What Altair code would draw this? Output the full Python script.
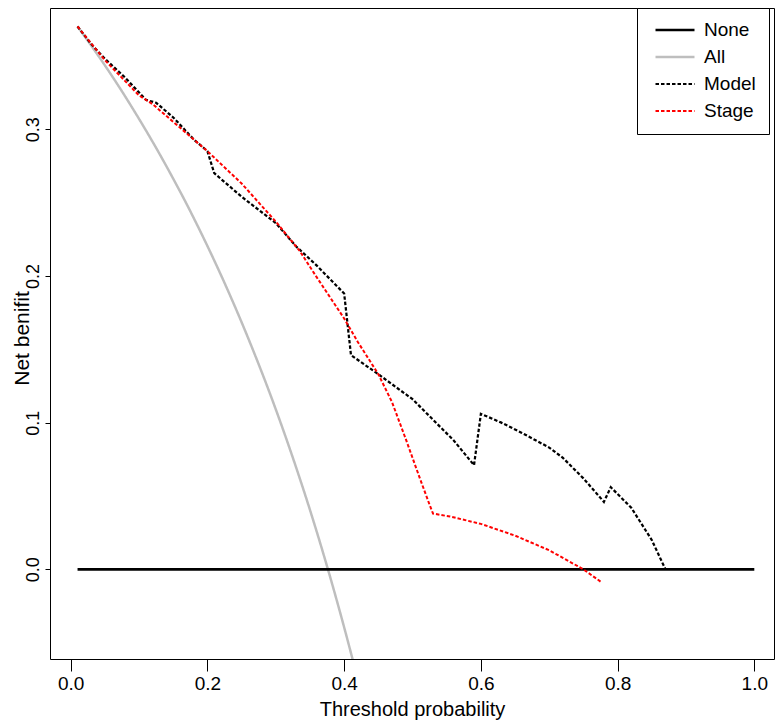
import altair as alt
import pandas as pd

series_names = ["None", "All", "Model", "Stage"]
series_colors = ["black", "#bebebe", "black", "red"]

thr_none = [0.01, 1.0]
nb_none = [0.0, 0.0]

thr_all = [0.01, 0.03, 0.05, 0.07, 0.09, 0.11, 0.13, 0.15, 0.17, 0.19, 0.21,
           0.23, 0.25, 0.27, 0.29, 0.31, 0.33, 0.35, 0.37, 0.39, 0.41, 0.43]
nb_all = [0.370, 0.357, 0.3435, 0.3294, 0.3146, 0.2992, 0.2831, 0.2662, 0.2486,
          0.2300, 0.2105, 0.1900, 0.1684, 0.1456, 0.1216, 0.0961, 0.0691,
          0.0405, 0.0100, -0.0225, -0.0571, -0.0942]

thr_model = [0.01, 0.03, 0.05, 0.08, 0.11, 0.125, 0.15, 0.18, 0.20, 0.21,
             0.25, 0.30, 0.33, 0.36, 0.40, 0.41, 0.45, 0.50, 0.53, 0.56, 0.59,
             0.60, 0.63, 0.66, 0.70, 0.72, 0.75, 0.78, 0.79, 0.82, 0.85, 0.87]
nb_model = [0.370, 0.358, 0.348, 0.335, 0.320, 0.318, 0.308, 0.293, 0.285,
            0.270, 0.254, 0.236, 0.220, 0.207, 0.188, 0.146, 0.133, 0.116,
            0.102, 0.088, 0.071, 0.106, 0.100, 0.093, 0.083, 0.076, 0.062,
            0.046, 0.056, 0.042, 0.020, 0.000]

thr_stage = [0.01, 0.05, 0.10, 0.12, 0.15, 0.20, 0.25, 0.30, 0.335, 0.36, 0.38,
             0.40, 0.42, 0.45, 0.47, 0.49, 0.51, 0.525, 0.53, 0.555, 0.60, 0.65,
             0.70, 0.75, 0.777]
nb_stage = [0.370, 0.347, 0.323, 0.317, 0.305, 0.285, 0.263, 0.237, 0.217,
            0.199, 0.185, 0.171, 0.155, 0.133, 0.114, 0.089, 0.063, 0.044,
            0.038, 0.036, 0.031, 0.023, 0.013, 0.000, -0.009]

x_ticks = [0.0, 0.2, 0.4, 0.6, 0.8, 1.0]
y_ticks = [0.0, 0.1, 0.2, 0.3]


def frame(name, xs, ys):
    return pd.DataFrame({"series": name, "threshold": xs, "net_benefit": ys,
                         "order": list(range(len(xs)))})


df_all = frame("All", thr_all, nb_all)
df_rest = pd.concat([
    frame("None", thr_none, nb_none),
    frame("Model", thr_model, nb_model),
    frame("Stage", thr_stage, nb_stage),
], ignore_index=True)

FONT = "Liberation Sans"

x_enc = alt.X("threshold:Q",
              scale=alt.Scale(domain=[-0.0303, 1.0288], nice=False, zero=False),
              axis=alt.Axis(values=x_ticks, format=".1f", title="Threshold probability",
                            tickSize=12, labelPadding=3, titlePadding=6,
                            labelFontSize=19, titleFontSize=20))
y_enc = alt.Y("net_benefit:Q",
              scale=alt.Scale(domain=[-0.0611, 0.3826], nice=False, zero=False),
              axis=alt.Axis(values=y_ticks, format=".1f", title="Net benifit",
                            tickSize=5, labelPadding=3, labelAngle=-90,
                            labelAlign="center", labelBaseline="bottom",
                            labelFontSize=18, titleFontSize=21,
                            titleX=-18, titleY=330, titleAngle=-90,
                            titleAlign="center", titleBaseline="bottom"))

legend = alt.Legend(orient="none", legendX=587, legendY=0, title=None,
                    symbolType="stroke", symbolSize=1521, clipHeight=18,
                    rowPadding=8, padding=13, symbolOffset=4, labelOffset=8,
                    labelFontSize=19, labelFont=FONT, labelColor="black",
                    strokeColor="black", fillColor="white")

color_enc = alt.Color("series:N", scale=alt.Scale(domain=series_names, range=series_colors),
                      legend=legend, title=None)
dash_enc = alt.StrokeDash("series:N",
                          scale=alt.Scale(domain=series_names,
                                          range=[[1, 0], [1, 0], [3.5, 2], [3.5, 2]]),
                          legend=legend, title=None)
width_enc = alt.StrokeWidth("series:N",
                            scale=alt.Scale(domain=series_names, range=[2.7, 2.0, 1.0, 1.0]),
                            legend=legend, title=None)

base_enc = dict(x=x_enc, y=y_enc, color=color_enc, strokeDash=dash_enc,
                strokeWidth=width_enc, order="order:Q", detail="series:N")

all_layer = alt.Chart(df_all).mark_line(clip=True, interpolate="monotone").encode(**base_enc)
rest_layer = alt.Chart(df_rest).mark_line(clip=True).encode(**base_enc)

chart = alt.layer(all_layer, rest_layer).properties(
    width=724, height=651,
    autosize=alt.AutoSizeParams(type="none"),
    padding={"left": 42, "top": 0, "right": 1, "bottom": 61},
    background="white",
).configure_view(
    stroke="black", strokeWidth=1, fill="white"
).configure_axis(
    grid=False, domain=False, tickColor="black", tickWidth=1,
    labelFont=FONT, titleFont=FONT,
    labelColor="black", titleColor="black", titleFontWeight="normal",
)

chart.save("out.html", embed_options={"renderer": "svg", "actions": False})
